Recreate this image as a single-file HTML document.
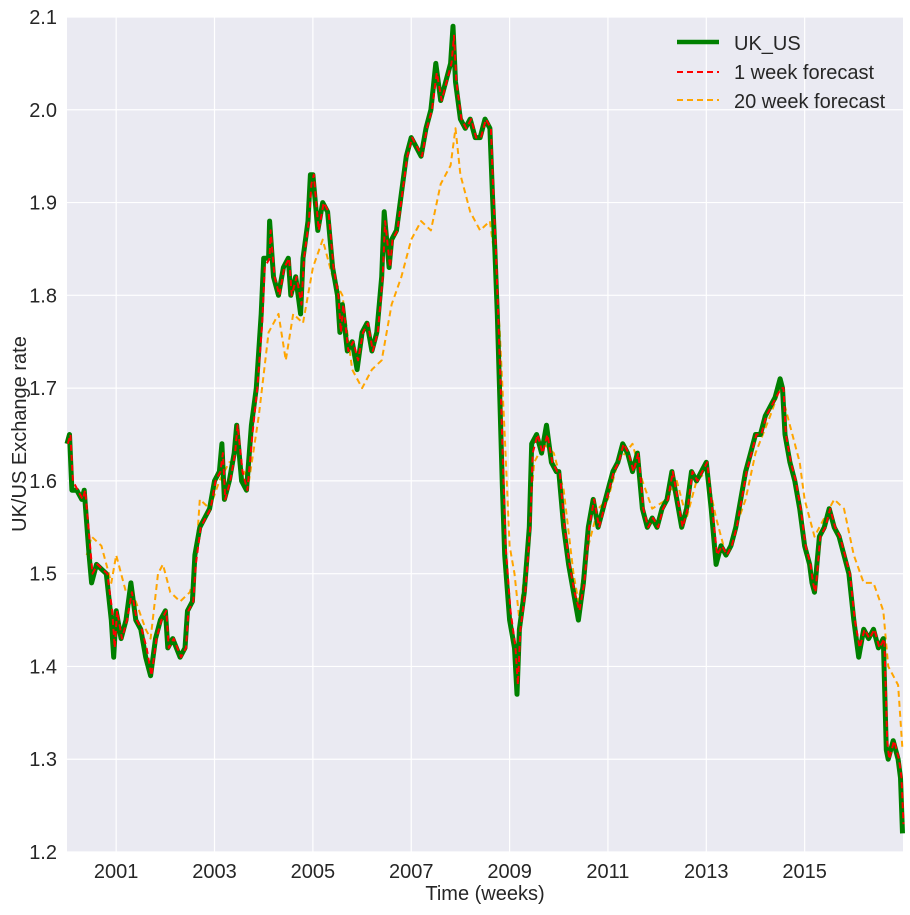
<!DOCTYPE html>
<html><head><meta charset="utf-8"><style>
html,body{margin:0;padding:0;background:#fff;}
svg text{font-family:"Liberation Sans",sans-serif;fill:#262626;}
</style></head><body>
<svg id="chart" width="910" height="910">
<rect x="67" y="17" width="836" height="835" fill="#EAEAF2"/>
<g id="grid"></g><g id="series"></g><g id="ticks"></g>
<text x="485" y="900" font-size="20" text-anchor="middle">Time (weeks)</text>
<text transform="translate(26,434) rotate(-90)" font-size="20" text-anchor="middle">UK/US Exchange rate</text>
<g>
<line x1="677" y1="42" x2="719" y2="42" stroke="green" stroke-width="4.5"/>
<text x="734" y="50" font-size="20">UK_US</text>
<line x1="677" y1="72" x2="719" y2="72" stroke="red" stroke-width="2" stroke-dasharray="6,4"/>
<text x="734" y="79" font-size="20">1 week forecast</text>
<line x1="677" y1="100" x2="719" y2="100" stroke="orange" stroke-width="2" stroke-dasharray="6,4"/>
<text x="734" y="108" font-size="20">20 week forecast</text>
</g>
</svg>
<script>
const xTicks=[2001,2003,2005,2007,2009,2011,2013,2015];
const yTicks=[1.2,1.3,1.4,1.5,1.6,1.7,1.8,1.9,2.0,2.1];
const ukDates=[2000.0,2000.05,2000.1,2000.2,2000.3,2000.35,2000.45,2000.5,2000.6,2000.8,2000.9,2000.95,2001.0,2001.1,2001.2,2001.3,2001.4,2001.5,2001.6,2001.7,2001.8,2001.9,2002.0,2002.05,2002.15,2002.3,2002.4,2002.45,2002.55,2002.6,2002.7,2002.8,2002.9,2003.0,2003.1,2003.15,2003.2,2003.3,2003.4,2003.45,2003.55,2003.65,2003.75,2003.85,2003.95,2004.0,2004.1,2004.12,2004.2,2004.3,2004.4,2004.5,2004.55,2004.65,2004.75,2004.8,2004.9,2004.95,2005.0,2005.1,2005.2,2005.3,2005.35,2005.4,2005.5,2005.55,2005.6,2005.7,2005.8,2005.9,2006.0,2006.1,2006.2,2006.3,2006.4,2006.45,2006.55,2006.6,2006.7,2006.8,2006.9,2007.0,2007.1,2007.2,2007.3,2007.4,2007.5,2007.6,2007.7,2007.8,2007.85,2007.9,2008.0,2008.1,2008.2,2008.3,2008.4,2008.5,2008.6,2008.65,2008.7,2008.75,2008.8,2008.85,2008.9,2009.0,2009.1,2009.15,2009.2,2009.3,2009.4,2009.45,2009.55,2009.65,2009.75,2009.85,2009.95,2010.0,2010.1,2010.2,2010.3,2010.4,2010.5,2010.6,2010.7,2010.8,2010.9,2011.0,2011.1,2011.2,2011.3,2011.4,2011.5,2011.6,2011.7,2011.8,2011.9,2012.0,2012.1,2012.2,2012.3,2012.4,2012.5,2012.6,2012.7,2012.8,2012.9,2013.0,2013.1,2013.2,2013.3,2013.4,2013.5,2013.6,2013.7,2013.8,2013.9,2014.0,2014.1,2014.2,2014.3,2014.4,2014.5,2014.55,2014.6,2014.7,2014.8,2014.9,2015.0,2015.1,2015.15,2015.2,2015.25,2015.3,2015.4,2015.5,2015.6,2015.7,2015.8,2015.9,2016.0,2016.1,2016.2,2016.3,2016.4,2016.5,2016.6,2016.66,2016.7,2016.8,2016.9,2016.95,2016.99];
const ukValues=[1.64,1.65,1.59,1.59,1.58,1.59,1.52,1.49,1.51,1.50,1.45,1.41,1.46,1.43,1.45,1.49,1.45,1.44,1.41,1.39,1.43,1.45,1.46,1.42,1.43,1.41,1.42,1.46,1.47,1.52,1.55,1.56,1.57,1.60,1.61,1.64,1.58,1.60,1.63,1.66,1.60,1.59,1.66,1.70,1.78,1.84,1.84,1.88,1.82,1.80,1.83,1.84,1.80,1.82,1.78,1.84,1.88,1.93,1.93,1.87,1.90,1.89,1.86,1.83,1.80,1.76,1.79,1.74,1.75,1.72,1.76,1.77,1.74,1.76,1.82,1.89,1.83,1.86,1.87,1.91,1.95,1.97,1.96,1.95,1.98,2.00,2.05,2.01,2.03,2.05,2.09,2.03,1.99,1.98,1.99,1.97,1.97,1.99,1.98,1.91,1.85,1.78,1.69,1.60,1.52,1.45,1.42,1.37,1.44,1.48,1.55,1.64,1.65,1.63,1.66,1.62,1.61,1.61,1.55,1.51,1.48,1.45,1.49,1.55,1.58,1.55,1.57,1.59,1.61,1.62,1.64,1.63,1.61,1.63,1.57,1.55,1.56,1.55,1.57,1.58,1.61,1.58,1.55,1.57,1.61,1.60,1.61,1.62,1.57,1.51,1.53,1.52,1.53,1.55,1.58,1.61,1.63,1.65,1.65,1.67,1.68,1.69,1.71,1.70,1.65,1.62,1.60,1.57,1.53,1.51,1.49,1.48,1.51,1.54,1.55,1.57,1.55,1.54,1.52,1.50,1.45,1.41,1.44,1.43,1.44,1.42,1.43,1.31,1.30,1.32,1.30,1.28,1.22];
const week1Values=[1.64,1.65,1.60,1.59,1.58,1.59,1.53,1.50,1.51,1.50,1.46,1.42,1.46,1.43,1.45,1.48,1.45,1.44,1.42,1.39,1.43,1.45,1.46,1.42,1.43,1.41,1.42,1.46,1.47,1.51,1.55,1.56,1.57,1.60,1.61,1.63,1.58,1.60,1.63,1.66,1.61,1.59,1.65,1.70,1.77,1.83,1.84,1.87,1.82,1.80,1.83,1.84,1.80,1.82,1.79,1.84,1.88,1.92,1.93,1.87,1.90,1.89,1.86,1.83,1.80,1.76,1.79,1.74,1.75,1.73,1.76,1.77,1.74,1.76,1.82,1.88,1.83,1.86,1.87,1.91,1.95,1.97,1.96,1.95,1.98,2.00,2.04,2.01,2.03,2.05,2.08,2.03,1.99,1.98,1.99,1.97,1.97,1.99,1.98,1.91,1.85,1.78,1.70,1.61,1.53,1.46,1.42,1.38,1.44,1.48,1.55,1.63,1.65,1.63,1.65,1.62,1.61,1.61,1.55,1.51,1.48,1.46,1.49,1.55,1.58,1.55,1.57,1.59,1.61,1.62,1.64,1.63,1.61,1.63,1.57,1.55,1.56,1.55,1.57,1.58,1.61,1.58,1.55,1.57,1.61,1.60,1.61,1.62,1.57,1.52,1.53,1.52,1.53,1.55,1.58,1.61,1.63,1.65,1.65,1.67,1.68,1.69,1.70,1.70,1.65,1.62,1.60,1.57,1.53,1.51,1.49,1.48,1.51,1.54,1.55,1.57,1.55,1.54,1.52,1.50,1.45,1.42,1.44,1.43,1.44,1.42,1.43,1.32,1.30,1.32,1.30,1.28,1.23];
const week20Dates=[2000.4,2000.5,2000.7,2000.9,2001.0,2001.2,2001.4,2001.6,2001.7,2001.85,2001.95,2002.1,2002.3,2002.5,2002.6,2002.7,2002.9,2003.1,2003.3,2003.5,2003.7,2003.9,2004.1,2004.3,2004.45,2004.6,2004.8,2005.0,2005.2,2005.4,2005.6,2005.8,2006.0,2006.2,2006.4,2006.6,2006.8,2007.0,2007.2,2007.4,2007.6,2007.8,2007.9,2008.0,2008.2,2008.4,2008.6,2008.7,2008.8,2008.9,2009.0,2009.1,2009.2,2009.3,2009.5,2009.7,2009.9,2010.1,2010.3,2010.4,2010.6,2010.8,2011.0,2011.2,2011.5,2011.7,2011.9,2012.2,2012.4,2012.6,2012.8,2013.0,2013.2,2013.4,2013.6,2013.8,2014.0,2014.3,2014.5,2014.7,2014.9,2015.0,2015.2,2015.4,2015.6,2015.8,2016.0,2016.2,2016.4,2016.6,2016.7,2016.8,2016.9,2016.99];
const week20Values=[1.52,1.54,1.53,1.49,1.52,1.48,1.47,1.44,1.43,1.50,1.51,1.48,1.47,1.48,1.50,1.58,1.57,1.60,1.62,1.62,1.60,1.67,1.76,1.78,1.73,1.78,1.77,1.83,1.86,1.82,1.80,1.72,1.70,1.72,1.73,1.79,1.82,1.86,1.88,1.87,1.92,1.94,1.98,1.93,1.89,1.87,1.88,1.84,1.76,1.65,1.53,1.50,1.45,1.50,1.62,1.64,1.63,1.59,1.50,1.47,1.53,1.57,1.58,1.62,1.64,1.60,1.57,1.58,1.60,1.56,1.60,1.61,1.56,1.52,1.55,1.58,1.63,1.67,1.70,1.66,1.62,1.58,1.54,1.56,1.58,1.57,1.52,1.49,1.49,1.46,1.40,1.39,1.38,1.31];

const X0=67,X1=903,Y0=852,Y1=17;
const xs=t=>X0+(t-2000)/(17)*(X1-X0);
const ys=v=>Y0-(v-1.2)/(0.9)*(Y0-Y1);
const NS="http://www.w3.org/2000/svg";
const grid=document.getElementById('grid'),ticks=document.getElementById('ticks'),series=document.getElementById('series');
xTicks.forEach(t=>{
  const l=document.createElementNS(NS,'line');
  l.setAttribute('x1',xs(t));l.setAttribute('x2',xs(t));l.setAttribute('y1',Y1);l.setAttribute('y2',Y0);
  l.setAttribute('stroke','#fff');l.setAttribute('stroke-width','1.2');
  
  
  grid.appendChild(l);
  const tx=document.createElementNS(NS,'text');
  tx.setAttribute('x',xs(t));tx.setAttribute('y',878);tx.setAttribute('font-size','20');tx.setAttribute('text-anchor','middle');
  tx.textContent=t;
  
  
  ticks.appendChild(tx);
});
yTicks.forEach(v=>{
  const l=document.createElementNS(NS,'line');
  l.setAttribute('x1',X0);l.setAttribute('x2',X1);l.setAttribute('y1',ys(v));l.setAttribute('y2',ys(v));
  l.setAttribute('stroke','#fff');l.setAttribute('stroke-width','1.2');
  
  
  grid.appendChild(l);
  const tx=document.createElementNS(NS,'text');
  tx.setAttribute('x',57);tx.setAttribute('y',ys(v)+7);tx.setAttribute('font-size','20');tx.setAttribute('text-anchor','end');
  tx.textContent=v.toFixed(1);
  
  
  ticks.appendChild(tx);
});
function path(dates,vals,color,w,dash,shift){
  const p=document.createElementNS(NS,'path');
  p.setAttribute('d',dates.map((t,i)=>(i?'L':'M')+xs(t+shift).toFixed(1)+','+ys(vals[i]).toFixed(1)).join(''));
  p.setAttribute('fill','none');p.setAttribute('stroke',color);p.setAttribute('stroke-width',w);
  p.setAttribute('stroke-linejoin','round');
  if(dash)p.setAttribute('stroke-dasharray',dash);
  series.appendChild(p);return p;
}
const o=path(week20Dates,week20Values,'orange',2,'6,4',0);


const g=path(ukDates,ukValues,'green',5,null,0);


const r=path(ukDates,week1Values,'red',2,'6,4',1/52);


</script>
</body></html>
